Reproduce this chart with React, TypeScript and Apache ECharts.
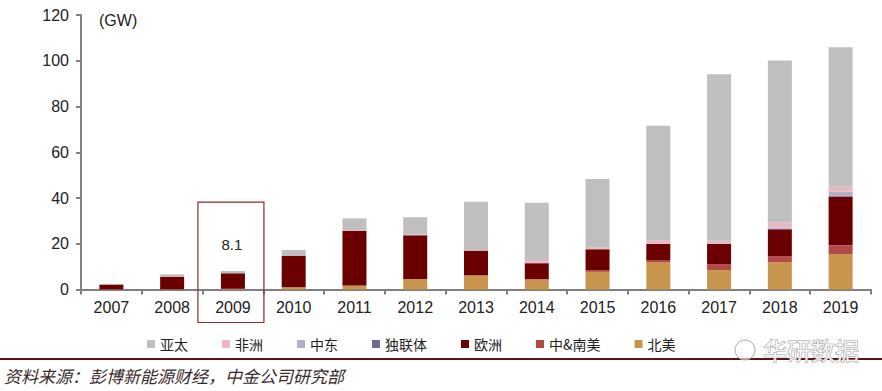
import React, { useEffect, useRef } from "react";
import * as echarts from "echarts";

const years = ["2007", "2008", "2009", "2010", "2011", "2012", "2013", "2014", "2015", "2016", "2017", "2018", "2019"];
// stacked bottom -> top
const northAmerica = [0.05, 0.1, 0.3, 1.0, 1.8, 4.6, 6.2, 4.5, 7.7, 12.0, 8.5, 12.0, 15.5];
const centralSouthAmerica = [0, 0, 0, 0, 0, 0, 0, 0, 0.8, 0.9, 2.6, 2.6, 3.8];
const europe = [2.1, 5.5, 6.8, 13.8, 23.9, 19.1, 10.8, 7.0, 9.1, 7.0, 8.8, 11.7, 21.3];
const cis = [0, 0, 0, 0, 0, 0, 0, 0, 0, 0, 0, 0.2, 0.3];
const middleEast = [0, 0, 0, 0, 0, 0, 0, 0, 0, 0.2, 0.3, 0.6, 1.8];
const africa = [0, 0, 0, 0, 0.3, 0.3, 0.3, 1.4, 0.7, 1.5, 1.1, 2.3, 2.2];
const asiaPacific = [0.2, 1.0, 1.0, 2.5, 5.1, 7.6, 21.1, 25.0, 30.0, 50.0, 72.8, 70.7, 61.0];

const seriesNames = ["北美", "中&南美", "欧洲", "独联体", "中东", "非洲", "亚太"];
const seriesData = [northAmerica, centralSouthAmerica, europe, cis, middleEast, africa, asiaPacific];
const seriesColors = ["#C8954F", "#B24A4A", "#6B0000", "#6F6585", "#B5AEC8", "#E8B9C2", "#BFBFBF"];
const legendOrder = ["亚太", "非洲", "中东", "独联体", "欧洲", "中&南美", "北美"];

const yTicks = { min: 0, max: 120, interval: 20 };
const highlightYear = "2009";
const highlightLabel = "8.1";

export default function App() {
  const ref = useRef<HTMLDivElement>(null);
  useEffect(() => {
    if (!ref.current) return;
    const chart = echarts.init(ref.current, null, { renderer: "svg" });
    const numFont = "Liberation Sans, Arial, sans-serif";
    const cjkFont = "Noto Sans CJK SC, sans-serif";
    chart.setOption({
      animation: false,
      backgroundColor: "#ffffff",
      grid: { left: 81, right: 11, top: 15, bottom: 101.5, containLabel: false },
      legend: {
        data: legendOrder,
        left: 142,
        top: 332,
        itemWidth: 8,
        itemHeight: 8,
        itemGap: 34,
        icon: "rect",
        textStyle: { fontSize: 14, color: "#222", fontFamily: cjkFont },
      },
      xAxis: {
        type: "category",
        data: years,
        axisLine: { lineStyle: { color: "#808080", width: 2 } },
        axisTick: { show: true, length: 5, lineStyle: { color: "#808080", width: 2 } },
        axisLabel: { fontSize: 16, color: "#222", fontFamily: numFont, margin: 10 },
      },
      yAxis: {
        type: "value",
        min: yTicks.min,
        max: yTicks.max,
        interval: yTicks.interval,
        splitLine: { show: false },
        axisLine: { show: true, lineStyle: { color: "#808080", width: 2 } },
        axisTick: { show: true, length: 5, lineStyle: { color: "#808080", width: 2 } },
        axisLabel: { fontSize: 16, color: "#222", fontFamily: numFont, margin: 12 },
      },
      series: seriesNames.map((name, i) => ({
        name,
        type: "bar",
        stack: "total",
        barWidth: 24,
        data: seriesData[i],
        itemStyle: { color: seriesColors[i] },
      })),
    });

    const cx = chart.convertToPixel({ xAxisIndex: 0 }, highlightYear) as number;
    const yTop = chart.convertToPixel({ yAxisIndex: 0 }, 38.2) as number;
    const yLabel = chart.convertToPixel({ yAxisIndex: 0 }, 19.5) as number;
    const y0 = chart.convertToPixel({ yAxisIndex: 0 }, 0) as number;

    chart.setOption({
      graphic: [
        {
          type: "rect",
          shape: { x: cx - 35, y: yTop, width: 66, height: y0 + 33 - yTop },
          style: { fill: "none", stroke: "#8E2B2B", lineWidth: 1.2 },
          z: 10,
        },
        {
          type: "text",
          x: cx - 1,
          y: yLabel,
          style: {
            text: highlightLabel,
            fill: "#222",
            fontSize: 15,
            fontFamily: numFont,
            align: "center",
            verticalAlign: "middle",
          },
          z: 10,
        },
        {
          type: "text",
          x: 99,
          y: 20,
          style: {
            text: "(GW)",
            fill: "#222",
            fontSize: 16,
            fontFamily: numFont,
            align: "left",
            verticalAlign: "middle",
          },
        },
        {
          type: "line",
          shape: { x1: 0, y1: 359, x2: 882, y2: 359 },
          style: { stroke: "#5A1414", lineWidth: 2 },
        },
        {
          type: "text",
          x: 4,
          y: 375,
          style: {
            text: "资料来源：彭博新能源财经，中金公司研究部",
            fill: "#3A2A2A",
            fontSize: 17,
            fontStyle: "italic",
            fontFamily: cjkFont,
            align: "left",
            verticalAlign: "middle",
          },
        },
        {
          type: "circle",
          shape: { cx: 745, cy: 350, r: 10 },
          style: { fill: "rgba(255,255,255,0.6)", stroke: "#aaa", lineWidth: 1 },
          z: 20,
        },
        {
          type: "text",
          x: 763,
          y: 349,
          style: {
            text: "华研数据",
            fill: "rgba(255,255,255,0.85)",
            stroke: "#9a9a9a",
            lineWidth: 1,
            fontSize: 24,
            fontFamily: cjkFont,
            align: "left",
            verticalAlign: "middle",
          },
          z: 20,
        },
      ],
    });

    return () => chart.dispose();
  }, []);
  return (
    <div
      ref={ref}
      style={{ position: "absolute", left: 0, top: 0, width: 882, height: 391 }}
    />
  );
}
